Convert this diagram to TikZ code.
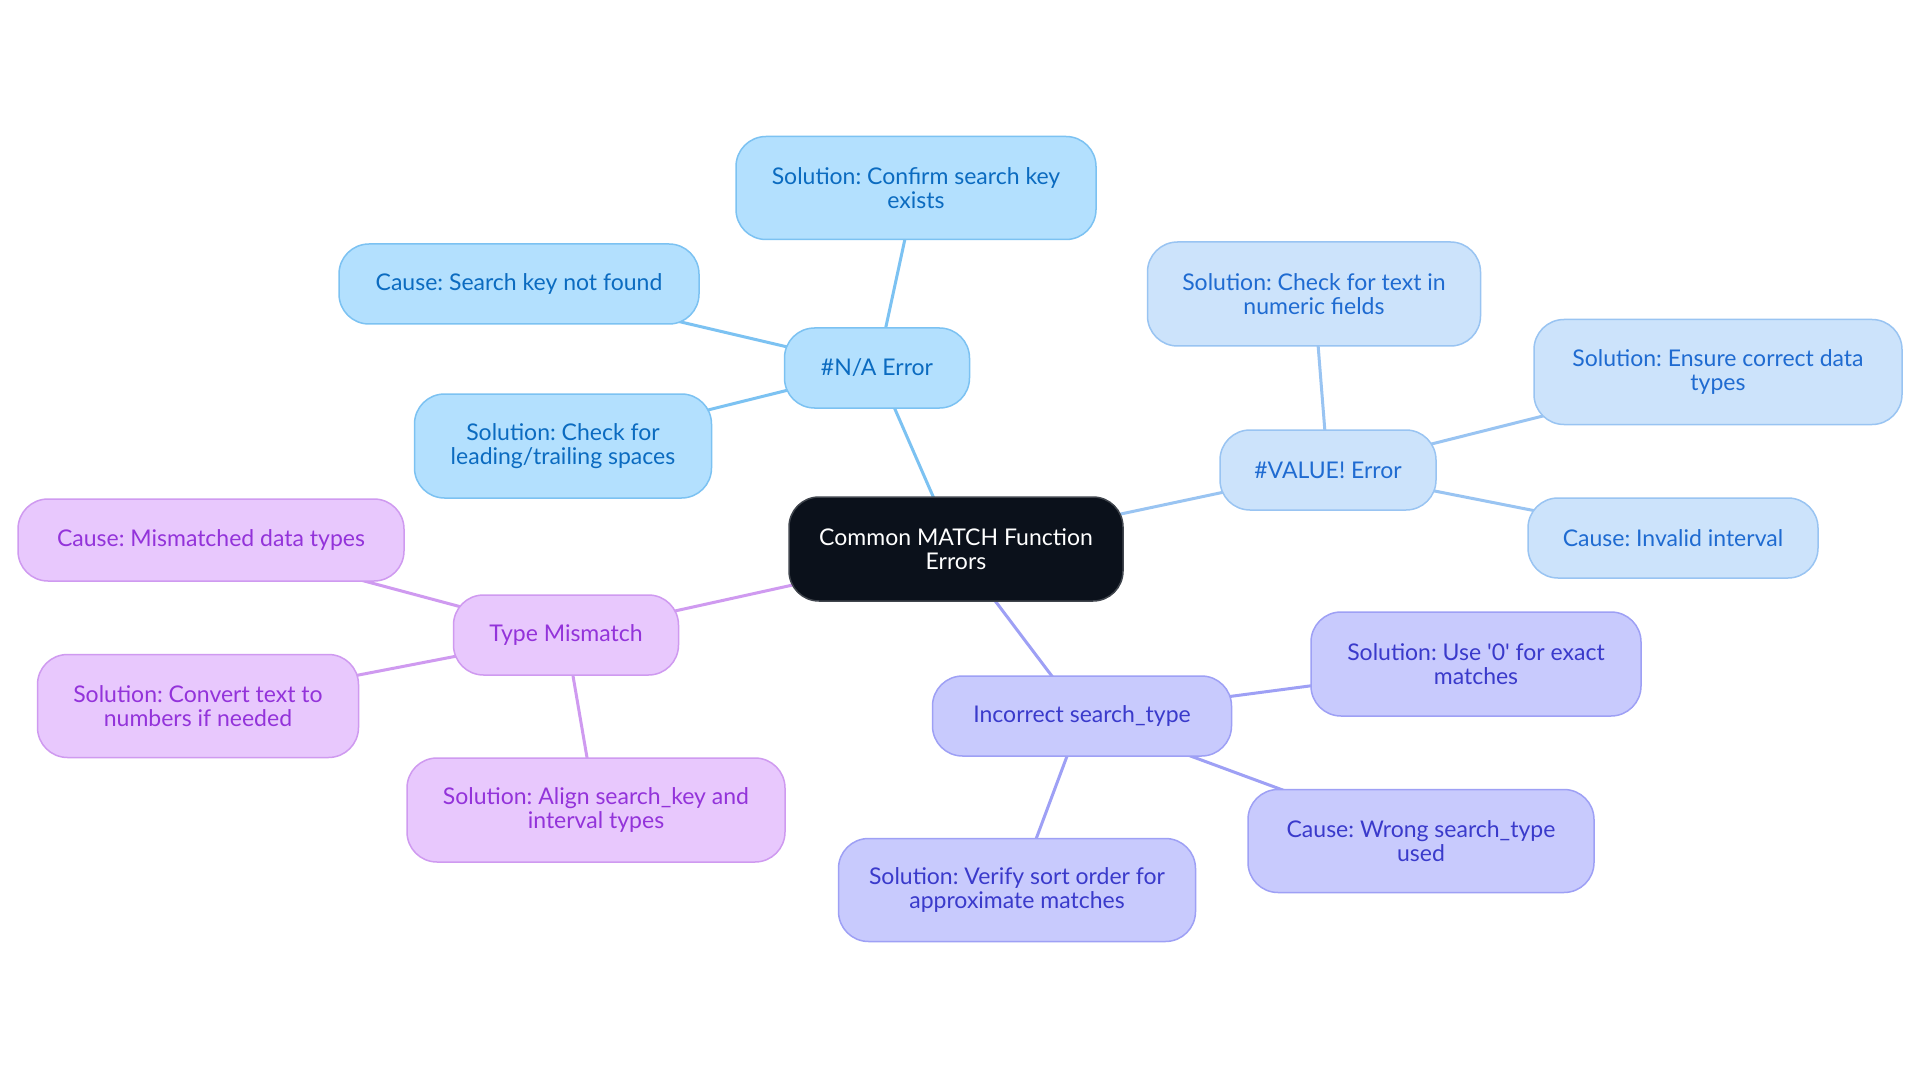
\documentclass[tikz,border=0pt]{standalone}
\usepackage{fontspec}
\setmainfont{Lato}
\frenchspacing
\usetikzlibrary{backgrounds}
\definecolor{naFill}{HTML}{B3E0FE}
\definecolor{naLine}{HTML}{7CC2F2}
\definecolor{naText}{HTML}{0B6BC0}
\definecolor{vaFill}{HTML}{CCE3FB}
\definecolor{vaLine}{HTML}{99C4F2}
\definecolor{vaText}{HTML}{1F6BD1}
\definecolor{stFill}{HTML}{C8CAFD}
\definecolor{stLine}{HTML}{9EA0F5}
\definecolor{stText}{HTML}{3A3ACB}
\definecolor{tmFill}{HTML}{E8C8FD}
\definecolor{tmLine}{HTML}{CF9AF0}
\definecolor{tmText}{HTML}{9333DA}
\definecolor{ctFill}{HTML}{0B111B}
\definecolor{ctLine}{HTML}{40454D}
\begin{document}
\begin{tikzpicture}[x=1pt,y=-1pt,
  base/.style={rounded corners=30pt, line width=1.5pt, align=center, inner sep=4pt,
    font=\fontsize{23}{24}\selectfont},
  central/.style={base, fill=ctFill, draw=ctLine, text=white},
  nabox/.style={base, fill=naFill, draw=naLine, text=naText},
  vabox/.style={base, fill=vaFill, draw=vaLine, text=vaText},
  stbox/.style={base, fill=stFill, draw=stLine, text=stText},
  tmbox/.style={base, fill=tmFill, draw=tmLine, text=tmText},
  naedge/.style={draw=naLine, line width=3pt},
  vaedge/.style={draw=vaLine, line width=3pt},
  stedge/.style={draw=stLine, line width=3pt},
  tmedge/.style={draw=tmLine, line width=3pt}
]
\useasboundingbox (0,0) rectangle (1920,1083);

\node[central, minimum width=334pt, minimum height=104pt] (c) at (956,549) {Common MATCH Function\\Errors};

\node[nabox, minimum width=185pt, minimum height=80pt] (na) at (877,368) {\#N/A Error};
\node[nabox, minimum width=360pt, minimum height=103pt] (na1) at (916,188) {Solution: Confirm search key\\exists};
\node[nabox, minimum width=360pt, minimum height=80pt] (na2) at (519,284) {Cause: Search key not found};
\node[nabox, minimum width=297pt, minimum height=104pt] (na3) at (563,446) {Solution: Check for\\leading/trailing spaces};

\node[vabox, minimum width=216pt, minimum height=80pt] (va) at (1328,470) {\#VALUE! Error};
\node[vabox, minimum width=333pt, minimum height=104pt] (va1) at (1314,294) {Solution: Check for text in\\numeric fields};
\node[vabox, minimum width=368pt, minimum height=105pt] (va2) at (1718,372) {Solution: Ensure correct data\\types};
\node[vabox, minimum width=290pt, minimum height=80pt] (va3) at (1673,538) {Cause: Invalid interval};

\node[tmbox, minimum width=225pt, minimum height=80pt] (tm) at (566,635) {Type Mismatch};
\node[tmbox, minimum width=386pt, minimum height=82pt] (tm1) at (211,540) {Cause: Mismatched data types};
\node[tmbox, minimum width=321pt, minimum height=103pt] (tm2) at (198,706) {Solution: Convert text to\\numbers if needed};
\node[tmbox, minimum width=378pt, minimum height=104pt] (tm3) at (596,810) {Solution: Align search\_key and\\interval types};

\node[stbox, minimum width=299pt, minimum height=80pt] (st) at (1082,716) {Incorrect search\_type};
\node[stbox, minimum width=330pt, minimum height=104pt] (st1) at (1476,664) {Solution: Use \textquotesingle0\textquotesingle{} for exact\\matches};
\node[stbox, minimum width=346pt, minimum height=103pt] (st2) at (1421,841) {Cause: Wrong search\_type\\used};
\node[stbox, minimum width=357pt, minimum height=103pt] (st3) at (1017,890) {Solution: Verify sort order for\\approximate matches};

\begin{scope}[on background layer]
\fill[white] (0,0) rectangle (1920,1083);
\path[naedge] (c.center) -- (na.center);
\path[naedge] (na.center) -- (na1.center);
\path[naedge] (na.center) -- (na2.center);
\path[naedge] (na.center) -- (na3.center);
\path[vaedge] (c.center) -- (va.center);
\path[vaedge] (va.center) -- (va1.center);
\path[vaedge] (va.center) -- (va2.center);
\path[vaedge] (va.center) -- (va3.center);
\path[tmedge] (c.center) -- (tm.center);
\path[tmedge] (tm.center) -- (tm1.center);
\path[tmedge] (tm.center) -- (tm2.center);
\path[tmedge] (tm.center) -- (tm3.center);
\path[stedge] (c.center) -- (st.center);
\path[stedge] (st.center) -- (st1.center);
\path[stedge] (st.center) -- (st2.center);
\path[stedge] (st.center) -- (st3.center);
\end{scope}
\end{tikzpicture}
\end{document}
